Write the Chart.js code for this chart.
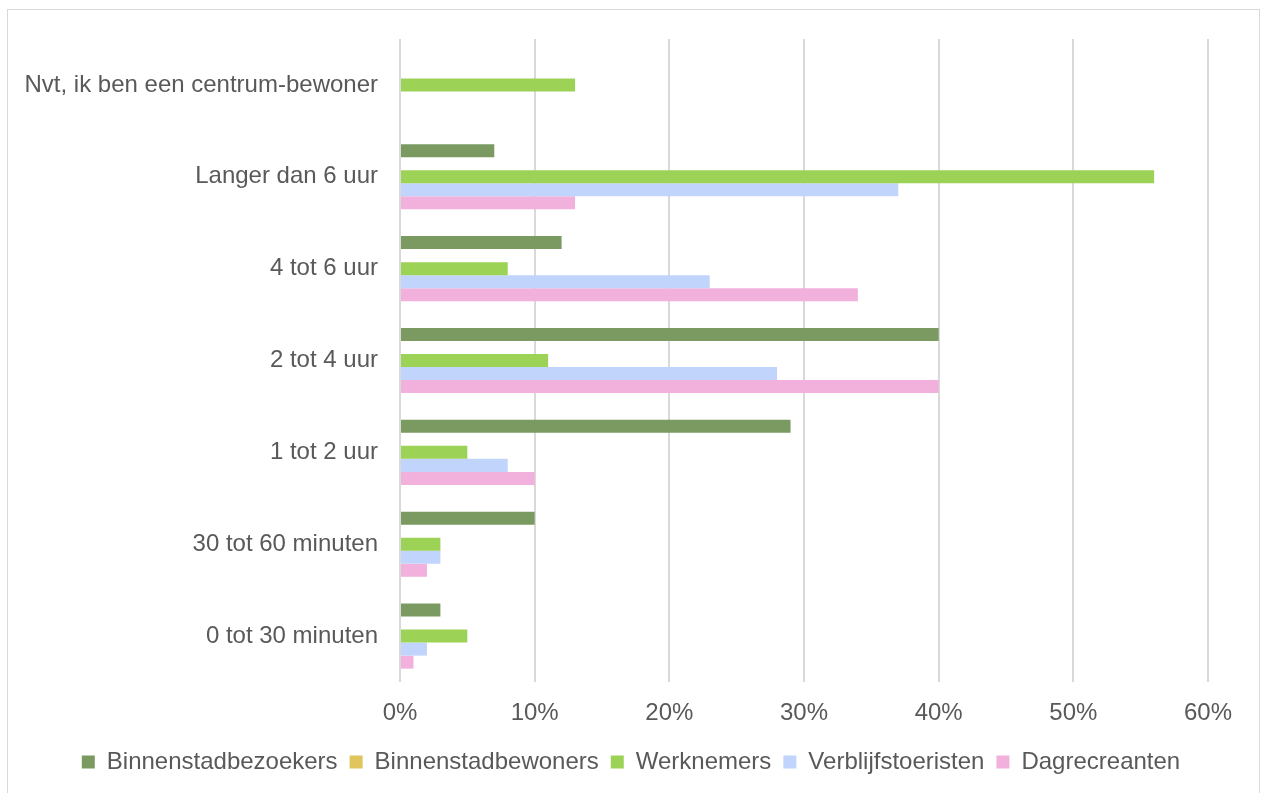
<!DOCTYPE html>
<html>
<head>
<meta charset="utf-8">
<script src="https://cdn.jsdelivr.net/npm/chart.js@4.4.1/dist/chart.umd.min.js"></script>
<style>
  html, body { margin: 0; padding: 0; background: #ffffff; overflow: hidden; }
  #frame { position: absolute; left: 7px; top: 9px; width: 1253px; height: 900px; border: 1.5px solid #d9d9d9; box-sizing: border-box; }
  #wrap { position: absolute; left: 0; top: 0; width: 1262px; height: 793px; }
</style>
</head>
<body>
<div id="frame"></div>
<div id="wrap"><canvas id="c" width="1262" height="793"></canvas></div>
<script>
const categories = [
  "Nvt, ik ben een centrum-bewoner",
  "Langer dan 6 uur",
  "4 tot 6 uur",
  "2 tot 4 uur",
  "1 tot 2 uur",
  "30 tot 60 minuten",
  "0 tot 30 minuten"
];
const seriesNames = ["Binnenstadbezoekers", "Binnenstadbewoners", "Werknemers", "Verblijfstoeristen", "Dagrecreanten"];
const binnenstadbezoekers = [null, 7, 12, 40, 29, 10, 3];
const binnenstadbewoners  = [null, null, null, null, null, null, null];
const werknemers          = [13, 56, 8, 11, 5, 3, 5];
const verblijfstoeristen  = [null, 37, 23, 28, 8, 3, 2];
const dagrecreanten       = [null, 13, 34, 40, 10, 2, 1];
const xTicks = [0, 10, 20, 30, 40, 50, 60];

const colors = ["#7a9a61", "#dfc55b", "#9cd256", "#c1d5fc", "#f1b1dc"];
const allValues = [binnenstadbezoekers, binnenstadbewoners, werknemers, verblijfstoeristen, dagrecreanten];

const FONT = "'Liberation Sans', Arial, sans-serif";
const TEXT = "#595959";

const legendCenter = {
  id: 'legendCenter',
  afterLayout(chart) {
    const lg = chart.legend;
    if (lg) {
      lg.left = 0;
      lg.right = chart.width;
      lg.width = chart.width;
    }
  }
};

new Chart(document.getElementById('c'), {
  type: 'bar',
  data: {
    labels: categories,
    datasets: seriesNames.map((n, i) => ({
      label: n,
      data: allValues[i],
      backgroundColor: colors[i],
      borderWidth: 0,
      categoryPercentage: 0.709,
      barPercentage: 1.0
    }))
  },
  plugins: [legendCenter],
  options: {
    indexAxis: 'y',
    responsive: false,
    animation: false,
    devicePixelRatio: 1,
    layout: { padding: { top: 39, right: 54, left: 0, bottom: 9 } },
    plugins: {
      tooltip: { enabled: false },
      legend: {
        position: 'bottom',
        labels: {
          boxWidth: 13,
          boxHeight: 13,
          padding: 12,
          color: TEXT,
          font: { family: FONT, size: 24 }
        }
      }
    },
    scales: {
      x: {
        min: 0,
        max: 60,
        afterBuildTicks: (s) => { s.ticks = xTicks.map(v => ({ value: v })); },
        afterFit: (s) => { s.height = 56; },
        grid: { color: "#d9d9d9", lineWidth: 2, drawTicks: false },
        border: { display: false },
        ticks: {
          padding: 17,
          color: TEXT,
          font: { family: FONT, size: 24 },
          callback: (v) => v + '%'
        }
      },
      y: {
        afterFit: (s) => { s.width = 400; },
        grid: { display: false, drawTicks: false },
        border: { display: false },
        ticks: {
          padding: 22,
          color: TEXT,
          font: { family: FONT, size: 24 }
        }
      }
    }
  }
});
</script>
</body>
</html>
